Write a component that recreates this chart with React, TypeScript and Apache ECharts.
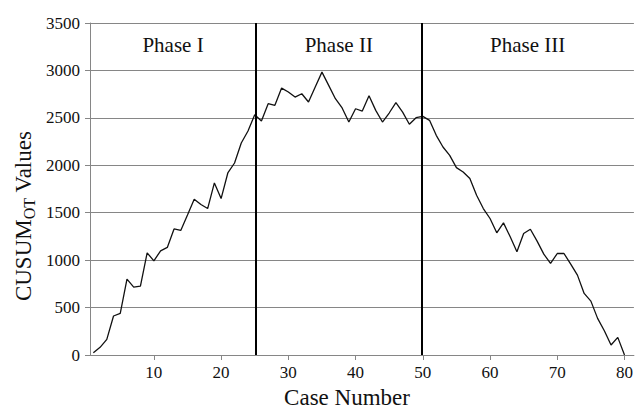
import React, { useEffect, useRef } from "react";
import * as echarts from "echarts";

const cases: number[] = Array.from({ length: 80 }, (_, i) => i + 1);
const cusumValues: number[] = [
  24, 81, 165, 411, 439, 800, 716, 726, 1077, 993,
  1098, 1134, 1329, 1313, 1477, 1642, 1586, 1544, 1814, 1649,
  1919, 2024, 2235, 2361, 2533, 2466, 2649, 2632, 2814, 2772,
  2719, 2754, 2667, 2825, 2982, 2842, 2702, 2604, 2456, 2596,
  2572, 2733, 2579, 2456, 2551, 2660, 2561, 2432, 2502, 2516,
  2474, 2316, 2193, 2105, 1975, 1930, 1860, 1684, 1544, 1439,
  1288, 1393, 1246, 1088, 1281, 1326, 1200, 1063, 965, 1070,
  1070, 958, 842, 649, 568, 386, 256, 105, 186, 0,
];
const xTickValues: number[] = [10, 20, 30, 40, 50, 60, 70, 80];
const phaseNames: string[] = ["Phase I", "Phase II", "Phase III"];
const phaseBounds: number[] = [0.5, 25.2, 49.8, 81.4];
const xTitle = "Case Number";
const yTitleMain = "CUSUM";
const yTitleSub = "OT";
const yTitleEnd = " Values";

const FONT = "Liberation Serif";
const GRAY = "#868686";

export default function App() {
  const ref = useRef<HTMLDivElement>(null);
  useEffect(() => {
    if (!ref.current) return;
    const chart = echarts.init(ref.current, undefined, { renderer: "svg" });
    const data = cases.map((c, i) => [c, cusumValues[i]]);
    const areas = phaseNames.map((name, i) => [
      { xAxis: phaseBounds[i], name },
      { xAxis: phaseBounds[i + 1] },
    ]);
    chart.setOption({
      animation: false,
      backgroundColor: "#ffffff",
      textStyle: { fontFamily: FONT },
      grid: { left: 90, right: 0, top: 23, bottom: 58 },
      xAxis: {
        type: "value",
        min: phaseBounds[0],
        max: phaseBounds[phaseBounds.length - 1],
        axisLine: { show: true, lineStyle: { color: GRAY, width: 1 } },
        axisTick: { show: true, length: 5, customValues: xTickValues, lineStyle: { color: GRAY } },
        axisLabel: {
          customValues: xTickValues,
          fontFamily: FONT,
          fontSize: 17,
          color: "#111",
          margin: 9,
          formatter: (v: number) => String(v),
        },
        splitLine: { show: false },
      },
      yAxis: {
        type: "value",
        min: 0,
        max: 3500,
        interval: 500,
        axisLine: { show: true, lineStyle: { color: GRAY, width: 1 } },
        axisTick: { show: true, length: 5, lineStyle: { color: GRAY } },
        axisLabel: {
          fontFamily: FONT,
          fontSize: 17,
          color: "#111",
          margin: 10,
          formatter: (v: number) => String(v),
        },
        splitLine: { show: true, lineStyle: { color: GRAY, width: 1 } },
      },
      graphic: [
        {
          type: "text",
          x: 347,
          y: 397,
          style: {
            text: xTitle,
            fontFamily: FONT,
            fontSize: 23,
            fill: "#111",
            align: "center",
            verticalAlign: "middle",
          },
        },
        {
          type: "text",
          x: 22,
          y: 216,
          rotation: Math.PI / 2,
          style: {
            text: `{m|${yTitleMain}}{s|${yTitleSub}}{m|${yTitleEnd}}`,
            align: "center",
            verticalAlign: "middle",
            rich: {
              m: { fontFamily: FONT, fontSize: 23, fill: "#111", verticalAlign: "bottom", lineHeight: 25 },
              s: { fontFamily: FONT, fontSize: 16, fill: "#111", verticalAlign: "bottom", lineHeight: 25, padding: [0, 0, -3, 0] },
            },
          },
        },
      ],
      series: [
        {
          type: "line",
          data,
          symbol: "none",
          lineStyle: { color: "#111", width: 1.3 },
          markLine: {
            silent: true,
            symbol: "none",
            label: { show: false },
            lineStyle: { color: "#000", width: 2, type: "solid" },
            data: phaseBounds.slice(1, 3).map((v) => ({ xAxis: v })),
          },
          markArea: {
            silent: true,
            itemStyle: { color: "rgba(0,0,0,0)" },
            label: {
              show: true,
              position: "insideTop",
              distance: 11,
              fontFamily: FONT,
              fontSize: 21,
              color: "#111",
            },
            data: areas,
          },
        },
      ],
    });
    return () => chart.dispose();
  }, []);
  return (
    <div
      ref={ref}
      style={{ position: "fixed", left: 0, top: 0, width: 636, height: 413, background: "#fff" }}
    />
  );
}
